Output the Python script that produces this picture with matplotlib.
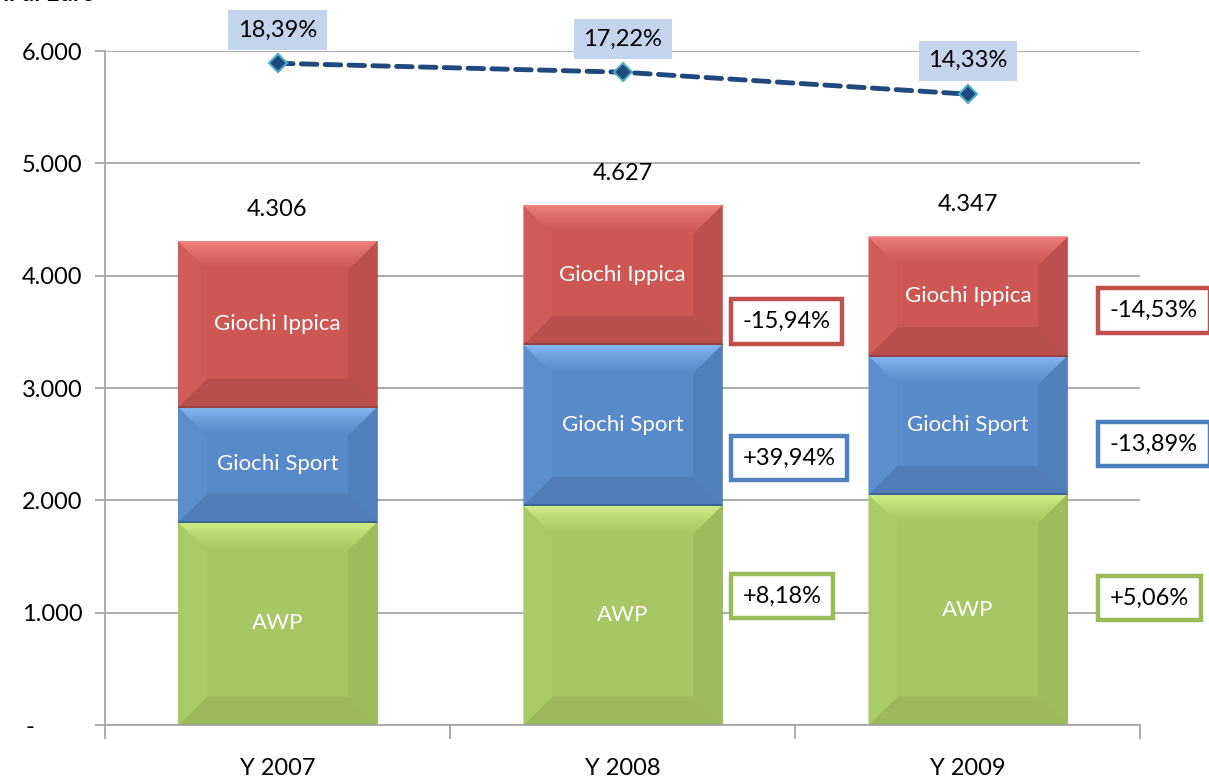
import numpy as np
import matplotlib.pyplot as plt
from matplotlib.patches import Polygon
from matplotlib.colors import to_rgb
from matplotlib.ticker import FixedLocator

plt.rcParams['font.family'] = ['Lato', 'DejaVu Sans']

# data (milioni di euro)
anni = ["Y 2007", "Y 2008", "Y 2009"]
awp = [1808, 1956, 2055]
sport = [1024, 1433, 1234]
ippica = [1474, 1238, 1058]
totali = ["4.306", "4.627", "4.347"]
quota = [18.39, 17.22, 14.33]
var_awp = ["", "+8,18%", "+5,06%"]
var_sport = ["", "+39,94%", "-13,89%"]
var_ippica = ["", "-15,94%", "-14,53%"]
# placement of the change boxes (manual, like the original)
var_y = {"ippica": [0, 3590, 3690], "sport": [0, 2378, 2502], "awp": [0, 1149, 1131]}
var_dx = [0, 15, 31]

c_green = dict(face="#A6C763", top="#D6F58E", left="#A9CB67", right="#9DBD5C", bottom="#9CBA5C", edge="#9BBB59", line="#819D47")
c_blue = dict(face="#5889C9", top="#8CC0FA", left="#5C8ECE", right="#5180BE", bottom="#517EBA", edge="#4F81BD", line="#3F6597")
c_red = dict(face="#CC5755", top="#F38683", left="#D05C5A", right="#BD504E", bottom="#BA504E", edge="#C0504D", line="#9A403E")


def mix(a, b, t):
    a, b = np.array(to_rgb(a)), np.array(to_rgb(b))
    return tuple(a + (b - a) * t)


def bevel(ax, patch, col):
    x0, y0 = patch.get_x(), patch.get_y()
    w, h = patch.get_width(), patch.get_height()
    x1, y1 = x0 + w, y0 + h
    bx = 0.082
    by = min(250, h / 2)
    ax.add_patch(Polygon([(x0, y0), (x1, y0), (x1 - bx, y0 + by), (x0 + bx, y0 + by)],
                         closed=True, fc=col["bottom"], ec=col["bottom"], lw=0.3, zorder=2.1))
    ax.add_patch(Polygon([(x0, y0), (x0 + bx, y0 + by), (x0 + bx, y1 - by), (x0, y1)],
                         closed=True, fc=col["left"], ec=col["left"], lw=0.3, zorder=2.1))
    ax.add_patch(Polygon([(x1, y0), (x1 - bx, y0 + by), (x1 - bx, y1 - by), (x1, y1)],
                         closed=True, fc=col["right"], ec=col["right"], lw=0.3, zorder=2.1))
    n = 14
    for k in range(n):
        t0, t1 = k / n, (k + 1) / n
        c = mix(col["top"], col["face"], ((t0 + t1) / 2) ** 0.7)
        ax.add_patch(Polygon([(x0 + bx * t0, y1 - by * t0), (x1 - bx * t0, y1 - by * t0),
                              (x1 - bx * t1, y1 - by * t1), (x0 + bx * t1, y1 - by * t1)],
                             closed=True, fc=c, ec=c, lw=0.5, zorder=2.1))
    ax.plot([x0, x1], [y0, y0], color=col["line"], lw=1.5, zorder=2.3, solid_capstyle="butt")
    ax.plot([x1, x1], [y0, y1], color=col["line"], lw=0.8, zorder=2.3, alpha=0.7)


fig = plt.figure(figsize=(12.09, 7.78), dpi=100)
ax = fig.add_axes([0.0868, 0.0681, 0.8565, 0.8663])

x = np.arange(len(anni))
w = 0.574
b1 = ax.bar(x, awp, w, color=c_green["face"], zorder=2)
b2 = ax.bar(x, sport, w, bottom=awp, color=c_blue["face"], zorder=2)
base3 = np.array(awp) + np.array(sport)
b3 = ax.bar(x, ippica, w, bottom=base3, color=c_red["face"], zorder=2)

for bars, col, name in [(b1, c_green, "AWP"), (b2, c_blue, "Giochi Sport"), (b3, c_red, "Giochi Ippica")]:
    for p in bars:
        bevel(ax, p, col)
        ax.text(p.get_x() + p.get_width() / 2, p.get_y() + p.get_height() / 2, name,
                ha="center", va="center", color="white", fontsize=16, zorder=3)

for i, p in enumerate(b3):
    ax.annotate(totali[i], (p.get_x() + p.get_width() / 2, p.get_y() + p.get_height()),
                xytext=(0, 23), textcoords="offset points", ha="center", va="center",
                fontsize=17, color="black", zorder=3)

for labels, key, col in [(var_awp, "awp", c_green), (var_sport, "sport", c_blue), (var_ippica, "ippica", c_red)]:
    for i, lab in enumerate(labels):
        if not lab:
            continue
        ax.annotate(lab, (x[i] + w / 2, var_y[key][i]), xytext=(var_dx[i], 0), textcoords="offset points",
                    ha="left", va="center", fontsize=17, color="black", zorder=4,
                    annotation_clip=False,
                    bbox=dict(boxstyle="square,pad=0.5", fc="white", ec=col["edge"], lw=3.2))

ax.set_xlim(-0.5, 2.5)
ax.set_ylim(0, 6000)
yt = [0, 1000, 2000, 3000, 4000, 5000, 6000]
ax.set_yticks(yt)
ax.set_yticklabels(["-        "] + ["{:,}".format(v).replace(",", ".") for v in yt[1:]], fontsize=17)
ax.yaxis.grid(True, color="#A6A6A6", lw=1.3, zorder=0)
ax.set_axisbelow(True)
ax.tick_params(axis="y", length=7, width=1.3, color="#A6A6A6", pad=9)

ax.xaxis.set_major_locator(FixedLocator([-0.5, 0.5, 1.5, 2.5]))
ax.xaxis.set_major_formatter(plt.NullFormatter())
ax.xaxis.set_minor_locator(FixedLocator(x))
ax.set_xticklabels(anni, minor=True, fontsize=17)
ax.tick_params(axis="x", which="minor", length=0, pad=24)
ax.tick_params(axis="x", which="major", length=10, width=1.3, color="#A6A6A6")

for s in ["top", "right"]:
    ax.spines[s].set_visible(False)
for s in ["left", "bottom"]:
    ax.spines[s].set_color("#A6A6A6")
    ax.spines[s].set_linewidth(1.3)

# quota line on hidden secondary axis
ax2 = ax.twinx()
ax2.set_ylim(-68.6, 20)
ax2.axis("off")
ax2.plot(x, quota, color="#1F497D", lw=3.5, ls=(0, (3.2, 1.7)), dash_capstyle="round",
         marker="D", ms=9, mfc="#1F497D", mec="#4BACC6", mew=1.5, zorder=5)
for i, q in enumerate(quota):
    ax2.annotate("{:.2f}%".format(q).replace(".", ","), (x[i], q), xytext=(0, 24),
                 textcoords="offset points", ha="center", va="center", fontsize=17,
                 annotation_clip=False,
                 bbox=dict(boxstyle="square,pad=0.4", fc="#C3D4EC", ec="none"))

fig.text(95 / 1209, 1 - 1 / 778, "Milioni di Euro", ha="right", va="baseline",
         fontsize=17, fontweight="bold")

fig.savefig("out.png", dpi=100)
